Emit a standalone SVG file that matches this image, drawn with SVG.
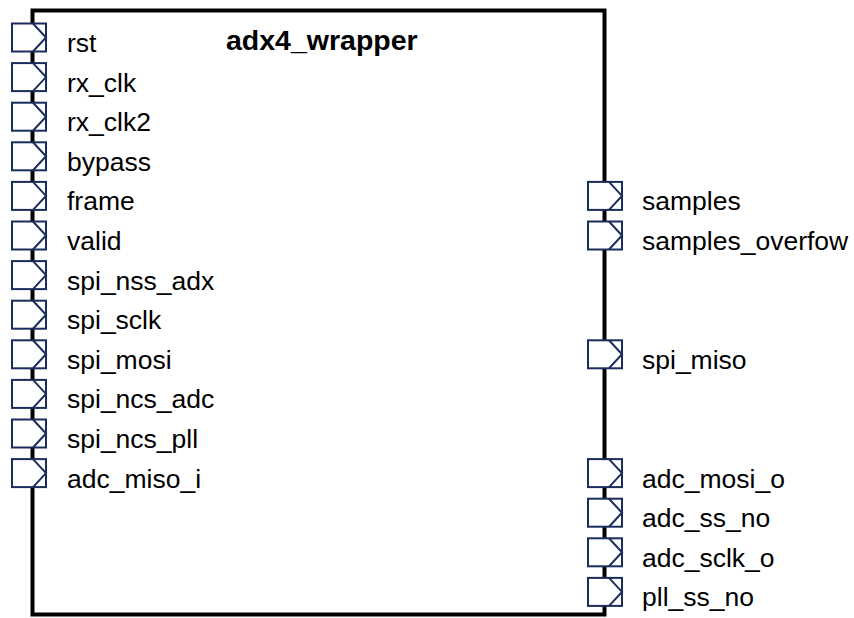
<svg xmlns="http://www.w3.org/2000/svg" width="854" height="618" viewBox="0 0 854 618">
<style>
.blk{fill:#ffffff;stroke:#000000;stroke-width:4}
.pin{fill:#ffffff;stroke:#1b2d5c;stroke-width:2}
.chev{fill:none;stroke:#1b2d5c;stroke-width:2}
.lbl{font-family:"Liberation Sans",Arial,sans-serif;font-size:26.5px;fill:#000000}
.ttl{font-family:"Liberation Sans",Arial,sans-serif;font-size:28.5px;font-weight:bold;fill:#000000}
</style>
<defs>
<g id="port">
<rect class="pin" x="0" y="0" width="34" height="28"/>
<polyline class="chev" points="21,0 34,14 21,28"/>
</g>
</defs>
<g id="adx4_wrapper">
<rect class="blk" x="32.5" y="10.5" width="572" height="604"/>
<text class="ttl" x="226" y="50">adx4_wrapper</text>
</g>
<g id="connectors"/>
<g id="pin_rst"><use href="#port" x="12" y="23.5"/><text class="lbl" x="67" y="52">rst</text></g>
<g id="pin_rx_clk"><use href="#port" x="12" y="63.1"/><text class="lbl" x="67" y="91.6">rx_clk</text></g>
<g id="pin_rx_clk2"><use href="#port" x="12" y="102.7"/><text class="lbl" x="67" y="131.2">rx_clk2</text></g>
<g id="pin_bypass"><use href="#port" x="12" y="142.3"/><text class="lbl" x="67" y="170.8">bypass</text></g>
<g id="pin_frame"><use href="#port" x="12" y="181.9"/><text class="lbl" x="67" y="210.4">frame</text></g>
<g id="pin_valid"><use href="#port" x="12" y="221.5"/><text class="lbl" x="67" y="250">valid</text></g>
<g id="pin_spi_nss_adx"><use href="#port" x="12" y="261.1"/><text class="lbl" x="67" y="289.6">spi_nss_adx</text></g>
<g id="pin_spi_sclk"><use href="#port" x="12" y="300.7"/><text class="lbl" x="67" y="329.2">spi_sclk</text></g>
<g id="pin_spi_mosi"><use href="#port" x="12" y="340.3"/><text class="lbl" x="67" y="368.8">spi_mosi</text></g>
<g id="pin_spi_ncs_adc"><use href="#port" x="12" y="379.9"/><text class="lbl" x="67" y="408.4">spi_ncs_adc</text></g>
<g id="pin_spi_ncs_pll"><use href="#port" x="12" y="419.5"/><text class="lbl" x="67" y="448">spi_ncs_pll</text></g>
<g id="pin_adc_miso_i"><use href="#port" x="12" y="459.1"/><text class="lbl" x="67" y="487.6">adc_miso_i</text></g>
<g id="pin_samples"><use href="#port" x="588" y="181.9"/><text class="lbl" x="642" y="210.4">samples</text></g>
<g id="pin_samples_overfow"><use href="#port" x="588" y="221.5"/><text class="lbl" x="642" y="250">samples_overfow</text></g>
<g id="pin_spi_miso"><use href="#port" x="588" y="340.3"/><text class="lbl" x="642" y="368.8">spi_miso</text></g>
<g id="pin_adc_mosi_o"><use href="#port" x="588" y="459.1"/><text class="lbl" x="642" y="487.6">adc_mosi_o</text></g>
<g id="pin_adc_ss_no"><use href="#port" x="588" y="498.7"/><text class="lbl" x="642" y="527.2">adc_ss_no</text></g>
<g id="pin_adc_sclk_o"><use href="#port" x="588" y="538.3"/><text class="lbl" x="642" y="566.8">adc_sclk_o</text></g>
<g id="pin_pll_ss_no"><use href="#port" x="588" y="577.9"/><text class="lbl" x="642" y="606.4">pll_ss_no</text></g>
</svg>
